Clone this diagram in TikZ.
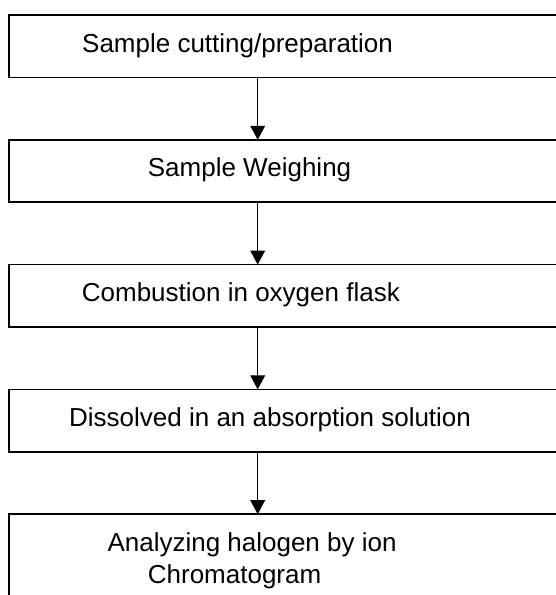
\documentclass[tikz,border=0pt]{standalone}
\usepackage{fontspec}
\setmainfont{Liberation Sans}
\usetikzlibrary{arrows.meta}
\begin{document}
\begin{tikzpicture}[x=1pt,y=-1pt,
  box/.style={draw, line width=1.6pt, rectangle, anchor=north west, outer sep=0pt,
              minimum width=580pt, minimum height=62.4pt, inner sep=0pt},
  lbl/.style={anchor=base west, inner sep=0pt, font=\fontsize{26}{31.7}\selectfont},
  flow/.style={line width=1.1pt, -{Triangle[length=14pt,width=14.7pt]}}]
\useasboundingbox (0,0) rectangle (556,595);
\clip (0,0) rectangle (556,595);
\coordinate (ax) at (257.7,0);
\node[box] (b1) at (9,15) {};
\node[box] (b2) at (9,139.8) {};
\node[box] (b3) at (9,264.6) {};
\node[box] (b4) at (9,389.4) {};
\node[box, minimum height=120pt] (b5) at (9,514.2) {};
\node[lbl] (t1) at (82,52.3) {Sample cutting/preparation};
\node[lbl] (t2) at (147.7,176.5) {Sample Weighing};
\node[lbl] (t3) at (81.7,301.7) {Combustion in oxygen flask};
\node[lbl] (t4) at (69,426.2) {Dissolved in an absorption solution};
\node[lbl] (t5a) at (107.3,551.7) {Analyzing halogen by ion};
\node[lbl] (t5b) at (147.7,583.3) {Chromatogram};
\draw[flow] (b1.south -| ax) -- (b2.north -| ax);
\draw[flow] (b2.south -| ax) -- (b3.north -| ax);
\draw[flow] (b3.south -| ax) -- (b4.north -| ax);
\draw[flow] (b4.south -| ax) -- (b5.north -| ax);
\end{tikzpicture}
\end{document}
